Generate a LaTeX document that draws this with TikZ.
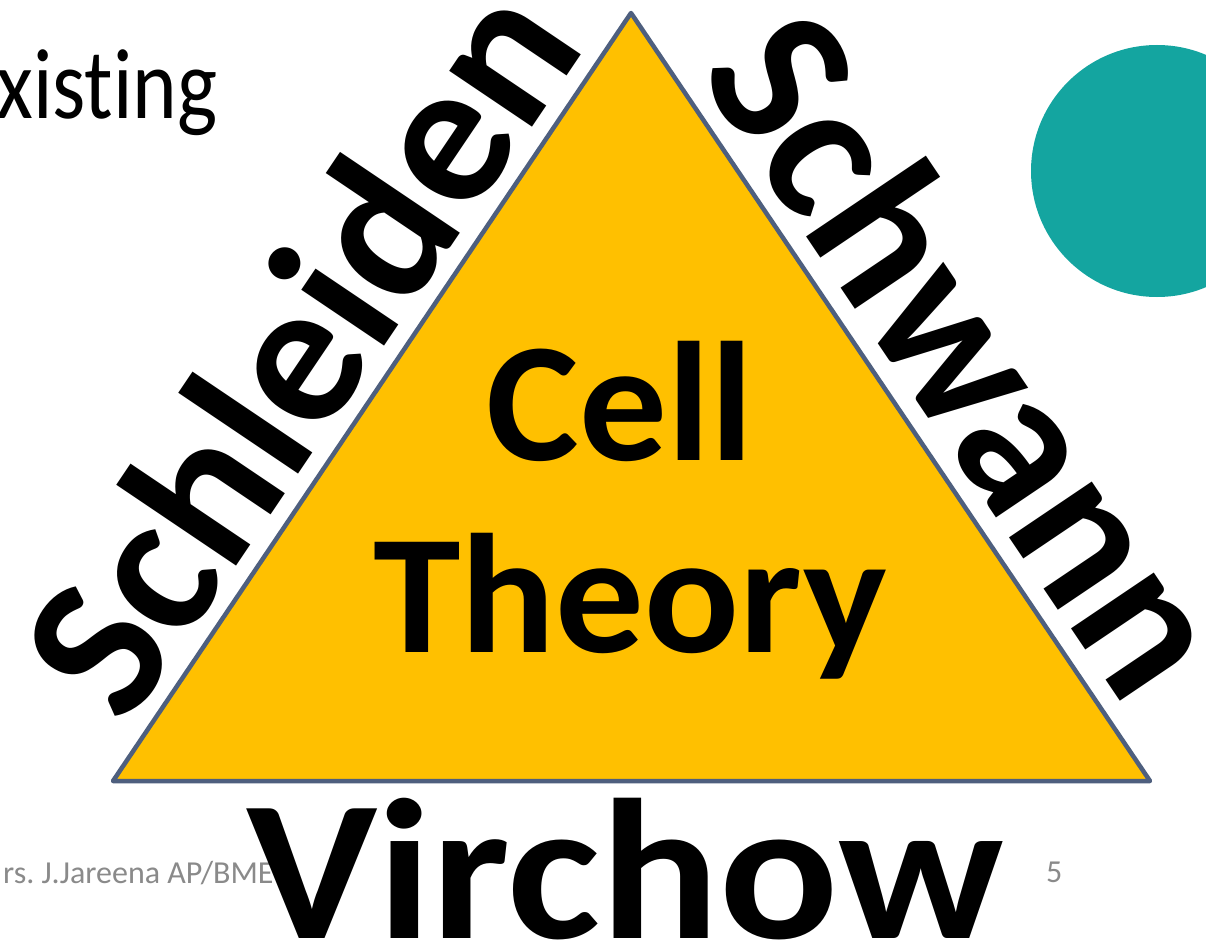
\documentclass[tikz,border=0pt]{standalone}
\usepackage{fontspec}
\setmainfont{Carlito}[Ligatures=NoCommon]
\definecolor{gold}{HTML}{FFC000}
\definecolor{edgeblue}{HTML}{4E5F7E}
\definecolor{tealdot}{HTML}{14A5A0}
\definecolor{footgray}{HTML}{8A8A8A}
\frenchspacing
\begin{document}
\begin{tikzpicture}[x=1pt,y=-1pt,
  sideword/.style={font=\fontsize{206}{206}\selectfont\bfseries, inner sep=0pt, text=black},
  bigword/.style={font=\fontsize{200}{200}\selectfont\bfseries, inner sep=0pt, text=black},
  midword/.style={font=\fontsize{170}{170}\selectfont\bfseries, inner sep=0pt, text=black},
  titleword/.style={font=\fontsize{100}{110}\selectfont, inner sep=0pt, text=black},
  footword/.style={font=\fontsize{32}{36}\selectfont, inner sep=0pt, text=footgray}]
\useasboundingbox (0,0) rectangle (1206,947);
\clip (0,0) rectangle (1206,947);
\fill[white] (0,0) rectangle (1206,947);
\coordinate (A) at (631,13);
\coordinate (B) at (113,781);
\coordinate (C) at (1150,781);
\node[circle, fill=tealdot, minimum size=252pt, inner sep=0pt] (dot) at (1157,171) {};
\filldraw[fill=gold, draw=edgeblue, line width=4.5pt, line join=round] (A) -- (B) -- (C) -- cycle;
\node[titleword, anchor=base west] (exist) at (-4,118) {\scalebox{0.85}[1]{xisting}};
\node[sideword, rotate=56, anchor=base] (schleiden) at (357,387) {Schleiden};
\node[sideword, rotate=-56, anchor=base] (schwann) at (911.6,392.4) {Schwann};
\node[midword, anchor=base] (cell) at (620,460) {\scalebox{1.03}[1]{Cell}};
\node[midword, anchor=base] (theory) at (630,652) {\scalebox{1.04}[1]{Theory}};
\node[footword, anchor=base west] (author) at (3,883) {rs. J.Jareena AP/BME};
\node[footword, anchor=base west] (page) at (1046,882) {5};
\node[bigword, anchor=base] (virchow) at (625,938) {\scalebox{1.11}[1]{Virchow}};
\end{tikzpicture}
\end{document}
